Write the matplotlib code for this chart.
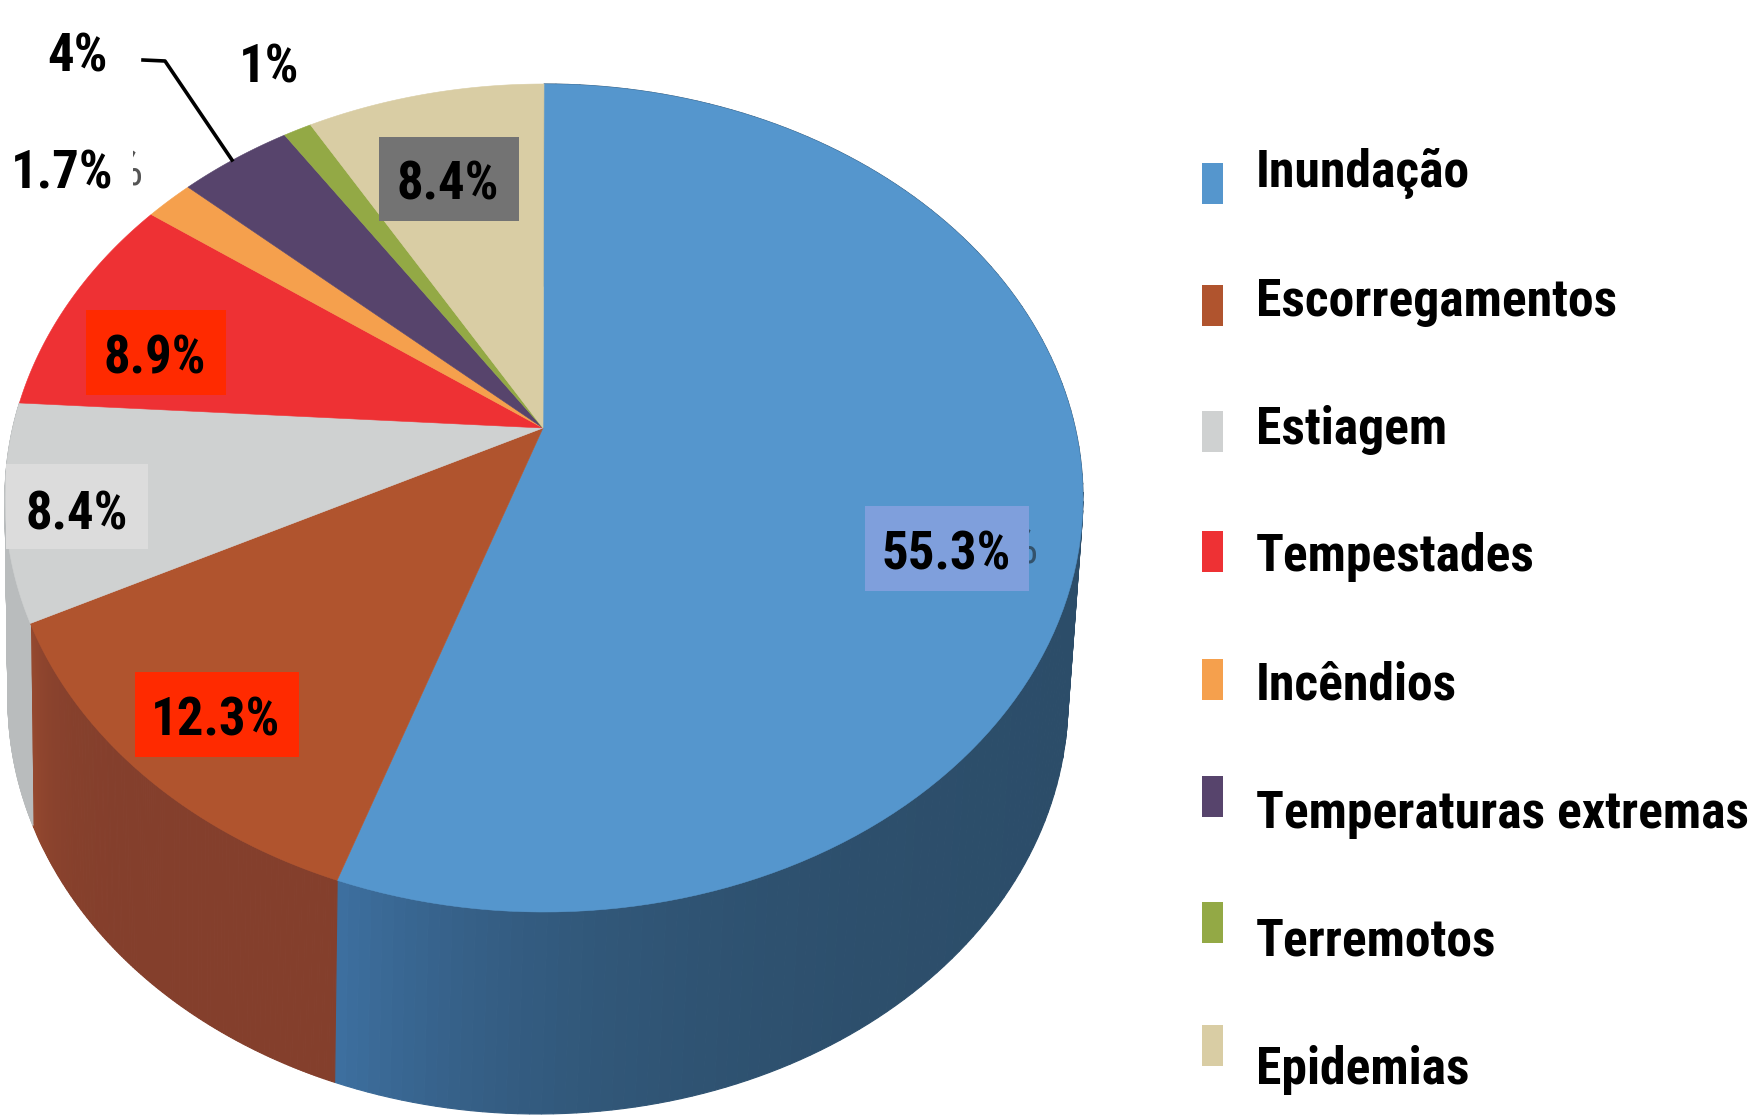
import numpy as np
import matplotlib
matplotlib.use('Agg')
import matplotlib.pyplot as plt
from matplotlib import font_manager as fm
from matplotlib.patches import Rectangle, Polygon

categories = ['Inundação', 'Escorregamentos', 'Estiagem', 'Tempestades', 'Incêndios',
              'Temperaturas extremas', 'Terremotos', 'Epidemias']
values = [55.3, 12.3, 8.4, 8.9, 1.7, 4.0, 1.0, 8.4]
colors = ['#5596cd', '#b0542e', '#cfd1d1', '#ee3134', '#f5a04d', '#57446c', '#93a945', '#d9cda4']
side_start = ['#3d6f9f', '#96492f', '#b9bcbd', '#ee3134', '#f5a04d', '#57446c', '#93a945', '#d9cda4']
side_end = ['#2c4d69', '#843f2c', '#b9bcbd', '#ee3134', '#f5a04d', '#57446c', '#93a945', '#d9cda4']

names = {f.name for f in fm.fontManager.ttflist}
FONT, fs, legend_fs = 'Liberation Sans', 31, 30
for name, size, lsize in [('Roboto Condensed', 38, 37.2), ('Asap Condensed', 38, 37.2)]:
    if name in names:
        FONT, fs, legend_fs = name, size, lsize
        break

W, H = 1756, 1116
# top face ellipse and the apex of the slices, in figure pixels
cx, cy, a, b = 544, 498, 539, 414
ax0, ay0 = 543, 428
k = 0.76
# bottom rim
cx2, cy2, a2, b2 = 538, 700, 530, 414


def rim_angle(theta):
    # where a slice edge (clockwise from top) meets the top ellipse
    dx, dy = np.sin(theta), -k * np.cos(theta)
    px, py = (ax0 - cx) / a, (ay0 - cy) / b
    qx, qy = dx / a, dy / b
    A = qx * qx + qy * qy
    B = 2 * (px * qx + py * qy)
    C = px * px + py * py - 1
    t = (-B + np.sqrt(B * B - 4 * A * C)) / (2 * A)
    return np.arctan2((ax0 + t * dx - cx) / a, -(ay0 + t * dy - cy) / b) % (2 * np.pi)


def top_xy(phi):
    return cx + a * np.sin(phi), cy - b * np.cos(phi)


def low_xy(phi):
    return cx2 + a2 * np.sin(phi), cy2 - b2 * np.cos(phi)


fig = plt.figure(figsize=(W / 100, H / 100), dpi=100)
ax = fig.add_axes([0, 0, 1, 1])
ax.set_xlim(0, W)
ax.set_ylim(H, 0)
ax.axis('off')

edges = np.concatenate([[0], np.cumsum(values)]) / sum(values) * 2 * np.pi
rim = [0.0] + [rim_angle(t) for t in edges[1:-1]] + [2 * np.pi]

# sides first, only the part facing the viewer
for i in range(len(values)):
    lo, hi = rim[i], rim[i + 1]
    c0 = np.array(matplotlib.colors.to_rgb(side_end[i]))
    c1 = np.array(matplotlib.colors.to_rgb(side_start[i]))
    if lo > np.pi * 1.5:
        continue
    phis = np.linspace(lo, hi, 160)
    for j in range(len(phis) - 1):
        p = phis[j:j + 2]
        tx, ty = top_xy(p)
        lx, ly = low_xy(p)
        frac = (j / 158) ** 8
        col = c0 + (c1 - c0) * frac
        ax.add_patch(Polygon(list(zip(tx, ty)) + list(zip(lx[::-1], ly[::-1])),
                             fc=col, ec=col, lw=0.8, zorder=1))

# top face
for i in range(len(values)):
    phis = np.linspace(rim[i], rim[i + 1], 120)
    tx, ty = top_xy(phis)
    ax.add_patch(Polygon([(ax0, ay0)] + list(zip(tx, ty)), fc=colors[i], ec=colors[i], lw=0.4, zorder=2))

kw = dict(family=FONT, fontweight='bold', fontsize=fs, color='black', ha='center', va='center', zorder=6)

# ghosts of the old labels sticking out from behind the boxes
ax.text(1021, 549, '%', family=FONT, fontsize=fs, color='#33526b', ha='center', va='center', zorder=3)
ax.text(126, 171, '%', family=FONT, fontsize=fs, color='#555555', ha='center', va='center', zorder=3)

# label boxes
boxes = [(865, 506, 164, 85, '#7f9fdc'), (135, 672, 164, 85, '#ff2a00'), (6, 464, 142, 85, '#dcdcdc'),
         (86, 310, 140, 85, '#ff2a00'), (379, 137, 140, 84, '#737373'),
         (0, 8, 131, 100, 'white'), (0, 125, 133, 95, 'white')]
for x, y, w, h, c in boxes:
    ax.add_patch(Rectangle((x, y), w, h, fc=c, ec='none', zorder=4))

ax.plot([143, 165, 232], [60, 61, 160], color='black', lw=2.6, zorder=3)

labels = ['55.3%', '12.3%', '8.4%', '8.9%', '1.7%', '4%', '1%', '8.4%']
lx = [946, 216, 77, 155, 62, 78, 269, 448]
ly = [555, 721, 515, 359, 174, 57, 68, 185]
for s, x, y in zip(labels, lx, ly):
    ax.text(x, y, s, **kw)

# legend
marker_y = [183, 305, 431, 551, 679, 796, 922, 1045]
text_y = [187, 316, 444, 571, 700, 828, 955, 1084]
for i, name in enumerate(categories):
    ax.add_patch(Rectangle((1202, marker_y[i] - 20), 21, 41, fc=colors[i], ec='none', zorder=3))
    ax.text(1256, text_y[i], name, family=FONT, fontweight='bold', fontsize=legend_fs, color='black',
            ha='left', va='baseline', zorder=6)

fig.savefig('out.png', dpi=100)
